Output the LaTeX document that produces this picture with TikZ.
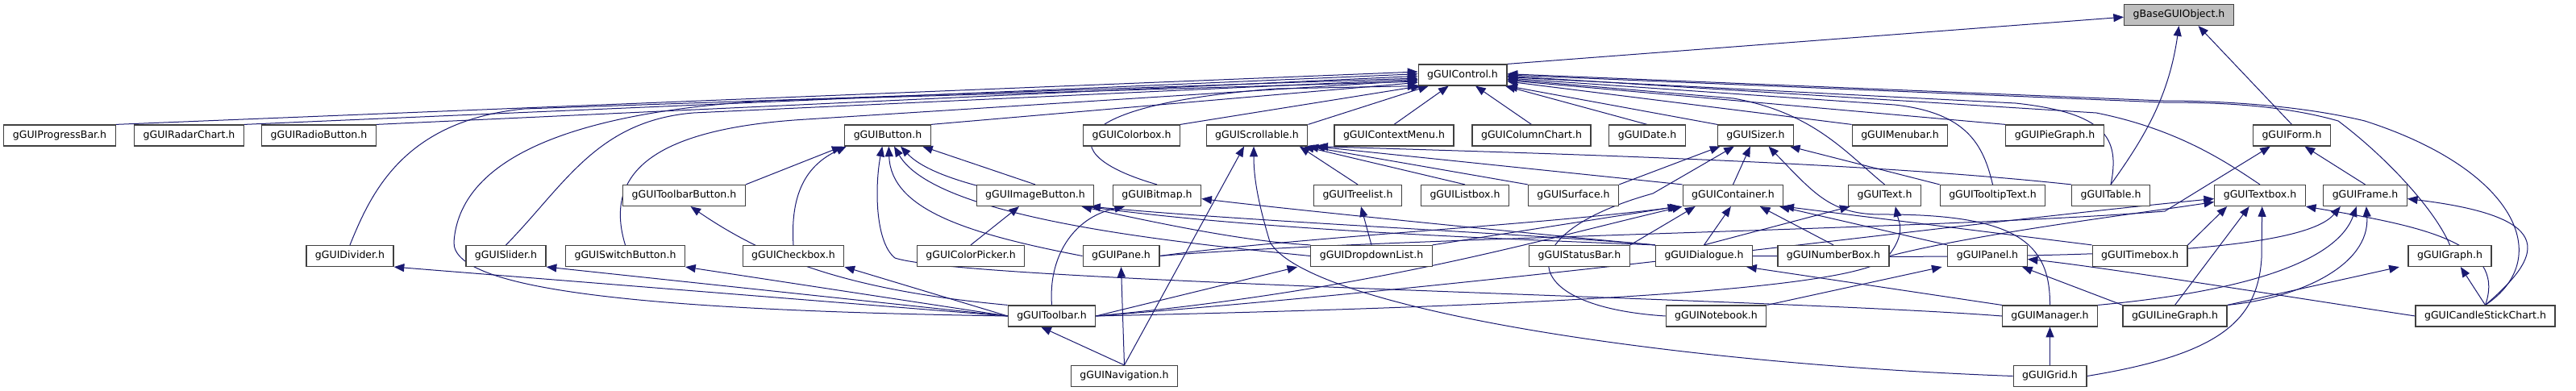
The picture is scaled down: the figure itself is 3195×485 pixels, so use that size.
\documentclass[tikz,border=0pt]{standalone}
\usepackage{fontspec}
\setmainfont{DejaVu Sans}
\usetikzlibrary{arrows.meta, backgrounds}

\definecolor{edgeblue}{HTML}{191970}
\definecolor{rootgray}{HTML}{BFBFBF}
\definecolor{boxline}{HTML}{404040}

\begin{document}
\begin{tikzpicture}[
        x=0.75pt, y=-0.75pt,
        hdr/.style={rectangle, draw=boxline, line width=0.9pt, fill=white, minimum height=19.5pt, inner xsep=8.25pt, inner ysep=0pt, font=\fontsize{9.4}{11}\selectfont},
        root/.style={hdr, fill=rootgray},
        edge/.style={draw=edgeblue, line width=0.75pt, -{Triangle[length=9.5pt, width=7.5pt]}}
    ]
    \useasboundingbox (0,0) rectangle (3195,485);

    % row 0 and 1
    \node[root] (base) at (2702.5,18.5) {gBaseGUIObject.h};
    \node[hdr] (control) at (1814,93) {gGUIControl.h};

    % row 2
    \node[hdr] (progressbar) at (74,168) {gGUIProgressBar.h};
    \node[hdr] (radarchart) at (234.5,168) {gGUIRadarChart.h};
    \node[hdr] (radiobutton) at (395.5,168) {gGUIRadioButton.h};
    \node[hdr] (button) at (1101,168) {gGUIButton.h};
    \node[hdr] (colorbox) at (1403.5,168) {gGUIColorbox.h};
    \node[hdr] (scrollable) at (1559,168) {gGUIScrollable.h};
    \node[hdr] (contextmenu) at (1729,168) {gGUIContextMenu.h};
    \node[hdr] (columnchart) at (1899.5,168) {gGUIColumnChart.h};
    \node[hdr] (date) at (2043,168) {gGUIDate.h};
    \node[hdr] (sizer) at (2177.5,168) {gGUISizer.h};
    \node[hdr] (menubar) at (2356.5,168) {gGUIMenubar.h};
    \node[hdr] (piegraph) at (2548.5,168) {gGUIPieGraph.h};
    \node[hdr] (form) at (2842.5,168) {gGUIForm.h};

    % row 3
    \node[hdr] (toolbarbutton) at (848.5,242.5) {gGUIToolbarButton.h};
    \node[hdr] (imagebutton) at (1284,242.5) {gGUIImageButton.h};
    \node[hdr] (bitmap) at (1435,242.5) {gGUIBitmap.h};
    \node[hdr] (treelist) at (1684,242.5) {gGUITreelist.h};
    \node[hdr] (listbox) at (1817,242.5) {gGUIListbox.h};
    \node[hdr] (surface) at (1951.5,242.5) {gGUISurface.h};
    \node[hdr] (container) at (2149.5,242.5) {gGUIContainer.h};
    \node[hdr] (text) at (2337.5,242.5) {gGUIText.h};
    \node[hdr] (tooltiptext) at (2471.5,242.5) {gGUITooltipText.h};
    \node[hdr] (table) at (2618,242.5) {gGUITable.h};
    \node[hdr] (textbox) at (2803,242.5) {gGUITextbox.h};
    \node[hdr] (frame) at (2933.5,242.5) {gGUIFrame.h};

    % row 4
    \node[hdr] (divider) at (434,317.5) {gGUIDivider.h};
    \node[hdr] (slider) at (627.5,317.5) {gGUISlider.h};
    \node[hdr] (switchbutton) at (775.5,317.5) {gGUISwitchButton.h};
    \node[hdr] (checkbox) at (984,317.5) {gGUICheckbox.h};
    \node[hdr] (colorpicker) at (1204,317.5) {gGUIColorPicker.h};
    \node[hdr] (pane) at (1390.5,317.5) {gGUIPane.h};
    \node[hdr] (dropdownlist) at (1701,317.5) {gGUIDropdownList.h};
    \node[hdr] (statusbar) at (1959,317.5) {gGUIStatusBar.h};
    \node[hdr] (dialogue) at (2113.5,317.5) {gGUIDialogue.h};
    \node[hdr] (numberbox) at (2274,317.5) {gGUINumberBox.h};
    \node[hdr] (panel) at (2465,317.5) {gGUIPanel.h};
    \node[hdr] (timebox) at (2654,317.5) {gGUITimebox.h};
    \node[hdr] (graph) at (3038.5,317.5) {gGUIGraph.h};

    % row 5 and 6
    \node[hdr] (toolbar) at (1304.5,392) {gGUIToolbar.h};
    \node[hdr] (notebook) at (2128.5,392) {gGUINotebook.h};
    \node[hdr] (manager) at (2542.5,392) {gGUIManager.h};
    \node[hdr] (linegraph) at (2697.5,392) {gGUILineGraph.h};
    \node[hdr] (candlestick) at (3082.5,392) {gGUICandleStickChart.h};
    \node[hdr] (navigation) at (1394.5,466.5) {gGUINavigation.h};
    \node[hdr] (grid) at (2542.5,466.5) {gGUIGrid.h};

    \begin{scope}[on background layer]
    % into gBaseGUIObject.h
    \draw[edge] (control.north east) -- ([yshift=-2pt]base.west);
    \draw[edge] (table.north) .. controls (2660,170) and (2690,120) .. (base.south);
    \draw[edge] (form.north) -- ([xshift=18pt]base.south);

    % into gGUIControl.h, left fan
    \draw[edge] (progressbar.north east) -- ([yshift=3pt]control.west);
    \draw[edge] (radarchart.north east) -- ([yshift=1pt]control.west);
    \draw[edge] (radiobutton.north east) -- ([yshift=-1pt]control.west);
    \draw[edge] (divider.north) .. controls (460,240) and (500,150) .. (650,135) -- ([yshift=-3pt]control.west);
    \draw[edge] (slider.north) .. controls (700,230) and (740,150) .. (860,140) -- ([yshift=-4pt]control.west);
    \draw[edge] (switchbutton.north) .. controls (750,220) and (800,160) .. (1000,148) -- ([yshift=-5pt]control.west);
    \draw[edge] (toolbar.west) .. controls (800,385) and (560,360) .. (563,300)
        .. controls (570,200) and (700,140) .. (950,125) -- ([yshift=-6pt]control.west);
    \draw[edge] (button.north east) -- ([yshift=-7pt]control.west);
    \draw[edge] (bitmap.north) .. controls (1300,190) and (1320,130) .. (1583,110) -- (control.south west);
    \draw[edge] (colorbox.north east) -- ([xshift=3pt]control.south west);
    \draw[edge] (scrollable.north east) -- ([xshift=10pt]control.south west);

    % into gGUIControl.h, below and right
    \draw[edge] (contextmenu.north) -- ([xshift=-13pt]control.south);
    \draw[edge] (columnchart.north) -- ([xshift=12pt]control.south);
    \draw[edge] (date.north) -- ([xshift=-2pt]control.south east);
    \draw[edge] (sizer.north west) -- (control.south east);
    \draw[edge] (menubar.north west) -- ([yshift=-6pt]control.east);
    \draw[edge] (piegraph.north west) -- ([yshift=-5pt]control.east);
    \draw[edge] (text.north) .. controls (2290,190) and (2250,140) .. (2150,122) -- ([yshift=-4pt]control.east);
    \draw[edge] (tooltiptext.north) .. controls (2460,180) and (2440,140) .. (2350,130) -- ([yshift=-3pt]control.east);
    \draw[edge] (table.north) .. controls (2630,170) and (2610,140) .. (2500,128) -- ([yshift=-2pt]control.east);
    \draw[edge] (textbox.north) .. controls (2760,200) and (2700,160) .. (2600,140) -- ([yshift=-1pt]control.east);
    \draw[edge] (graph.north) .. controls (3020,260) and (2960,195) .. (2900,150)
        .. controls (2830,130) and (2750,127) .. (2683,127) -- (control.east);
    \draw[edge] (candlestick.north) .. controls (3170,320) and (3120,210) .. (2933,150)
        .. controls (2850,130) and (2750,125) .. (2683,125) -- ([yshift=1pt]control.east);

    % into gGUIButton.h
    \draw[edge] (toolbarbutton.north east) -- ([xshift=-2pt]button.south west);
    \draw[edge] (checkbox.north) .. controls (980,240) and (1000,205) .. ([xshift=2pt]button.south west);
    \draw[edge] (imagebutton.north) -- ([xshift=-8pt]button.south east);
    \draw[edge] (pane.west) .. controls (1200,290) and (1105,260) .. ([xshift=1pt]button.south);
    \draw[edge] (dropdownlist.west) .. controls (1450,300) and (1160,270) .. ([xshift=6pt]button.south);
    \draw[edge] (dialogue.north west) .. controls (1700,290) and (1200,270) .. ([xshift=12pt]button.south);
    \draw[edge] (manager.west) .. controls (2200,370) and (1200,350) .. (1110,320)
        .. controls (1085,300) and (1085,230) .. ([xshift=-5pt]button.south);

    % into gGUIImageButton.h and gGUIBitmap.h
    \draw[edge] (colorpicker.north) -- ([xshift=-15pt]imagebutton.south);
    \draw[edge] (dropdownlist.north west) .. controls (1550,300) and (1450,280) .. ([xshift=-12pt]imagebutton.south east);
    \draw[edge] (dialogue.north west) .. controls (1900,290) and (1550,275) .. ([xshift=-4pt]imagebutton.south east);
    \draw[edge] (toolbar.north) .. controls (1300,320) and (1330,270) .. ([xshift=-30pt]bitmap.south);
    \draw[edge] (dialogue.north west) .. controls (1900,290) and (1600,260) .. ([yshift=-3pt]bitmap.east);

    % into gGUIScrollable.h
    \draw[edge] (treelist.north) -- ([xshift=-8pt]scrollable.south east);
    \draw[edge] (listbox.north) -- ([xshift=-4pt]scrollable.south east);
    \draw[edge] (surface.north west) -- (scrollable.south east);
    \draw[edge] (container.north west) -- ([xshift=6pt]scrollable.south east);
    \draw[edge] (table.north west) .. controls (2300,200) and (1900,190) .. ([xshift=9pt]scrollable.south east);
    \draw[edge] (navigation.north) -- ([xshift=-12pt]scrollable.south);
    \draw[edge] (grid.west) .. controls (2050,450) and (1620,380) .. (1575,300)
        .. controls (1560,250) and (1555,220) .. ([xshift=-3pt]scrollable.south);
    \draw[edge] (dropdownlist.north) -- ([xshift=3pt]treelist.south);

    % into gGUISizer.h
    \draw[edge] (surface.north east) -- ([xshift=-33pt]sizer.south);
    \draw[edge] (notebook.west) .. controls (1880,380) and (1870,290) .. (2050,240) -- ([xshift=-20pt]sizer.south);
    \draw[edge] (container.north) -- ([xshift=-5pt]sizer.south);
    \draw[edge] (manager.north) .. controls (2543,300) and (2500,265) .. (2330,266)
        .. controls (2270,265) and (2250,240) .. ([xshift=12pt]sizer.south);
    \draw[edge] (tooltiptext.north west) -- ([xshift=-4pt]sizer.south east);

    % into gGUIContainer.h
    \draw[edge] (dropdownlist.north east) -- ([xshift=-4pt]container.south west);
    \draw[edge] (pane.east) .. controls (1600,295) and (1900,280) .. ([xshift=-2pt]container.south west);
    \draw[edge] (statusbar.north east) -- ([xshift=12pt]container.south west);
    \draw[edge] (toolbar.east) .. controls (1700,360) and (1900,300) .. (container.south west);
    \draw[edge] (dialogue.north) -- ([xshift=-2pt]container.south);
    \draw[edge] (numberbox.north) -- ([xshift=25pt]container.south);
    \draw[edge] (panel.north west) -- ([xshift=-4pt]container.south east);
    \draw[edge] (timebox.north west) -- (container.south east);

    % into gGUIText.h
    \draw[edge] (dialogue.north) -- ([xshift=2pt]text.south west);
    \draw[edge] (toolbar.east) .. controls (1900,380) and (2300,360) .. (2340,320)
        .. controls (2365,290) and (2355,275) .. ([xshift=10pt]text.south);

    % into gGUITextbox.h
    \draw[edge] (toolbar.east) .. controls (1900,350) and (2400,280) .. ([yshift=-3pt]textbox.west);
    \draw[edge] (numberbox.east) .. controls (2450,290) and (2650,265) .. ([yshift=-6pt]textbox.west);
    \draw[edge] (timebox.north east) -- ([xshift=12pt]textbox.south west);
    \draw[edge] (linegraph.north) -- ([xshift=-10pt]textbox.south);
    \draw[edge] (grid.east) .. controls (2750,440) and (2800,400) .. (2805,320) -- ([xshift=2pt]textbox.south);
    \draw[edge] (candlestick.north) .. controls (3110,300) and (3000,280) .. (textbox.south east);

    % into gGUIForm.h and gGUIFrame.h
    \draw[edge] (frame.north) -- ([xshift=12pt]form.south);
    \draw[edge] (pane.east) .. controls (1700,295) and (2400,285) .. (2685,262) -- ([xshift=-20pt]form.south);
    \draw[edge] (dialogue.east) .. controls (2500,320) and (2850,320) .. ([xshift=-23pt]frame.south);
    \draw[edge] (manager.north east) .. controls (2800,360) and (2900,320) .. ([xshift=-8pt]frame.south);
    \draw[edge] (linegraph.north east) .. controls (2850,370) and (2940,330) .. ([xshift=1pt]frame.south);
    \draw[edge] (candlestick.north) .. controls (3150,320) and (3180,270) .. ([yshift=-3pt]frame.east);

    % lower rows
    \draw[edge] (linegraph.north east) -- ([xshift=-8pt]graph.south west);
    \draw[edge] (candlestick.north) -- ([xshift=10pt]graph.south);
    \draw[edge] (notebook.north east) -- ([xshift=-5pt]panel.south west);
    \draw[edge] (linegraph.north west) -- ([xshift=-5pt]panel.south east);
    \draw[edge] (candlestick.west) .. controls (2850,370) and (2600,330) .. ([yshift=-3pt]panel.east);
    \draw[edge] (manager.north west) -- ([xshift=-6pt]dialogue.south east);
    \draw[edge] (grid.north) -- (manager.south);
    \draw[edge] (navigation.north) -- ([xshift=-10pt]toolbar.south);
    \draw[edge] (navigation.north) -- (pane.south);
    \draw[edge] (toolbar.west) -- (divider.south east);
    \draw[edge] (toolbar.west) -- (slider.south east);
    \draw[edge] (toolbar.west) -- (switchbutton.south east);
    \draw[edge] (toolbar.west) -- (checkbox.south east);
    \draw[edge] (toolbar.north west) .. controls (1050,360) and (950,320) .. ([xshift=6pt]toolbarbutton.south);
    \draw[edge] (toolbar.east) -- ([xshift=-12pt]dropdownlist.south west);
    \end{scope}
\end{tikzpicture}
\end{document}
